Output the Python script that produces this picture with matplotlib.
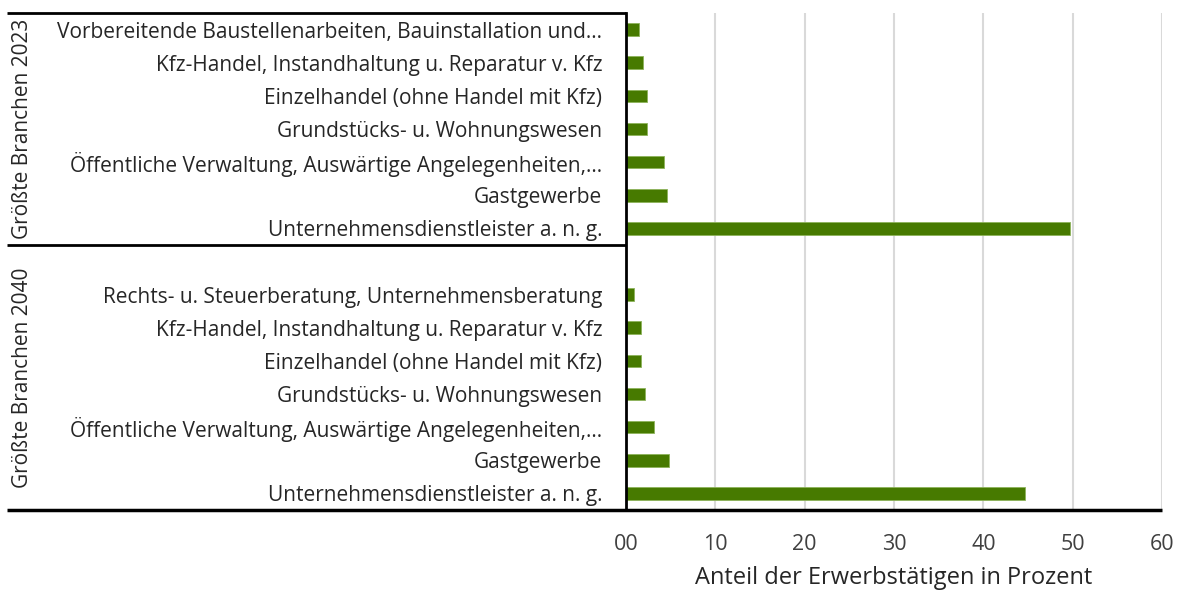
import matplotlib
matplotlib.use("Agg")
import matplotlib.pyplot as plt
from matplotlib.transforms import blended_transform_factory

# ---- data ----
group_labels = ["Größte Branchen 2023", "Größte Branchen 2040"]
categories_2023 = [
    "Vorbereitende Baustellenarbeiten, Bauinstallation und…",
    "Kfz-Handel, Instandhaltung u. Reparatur v. Kfz",
    "Einzelhandel (ohne Handel mit Kfz)",
    "Grundstücks- u. Wohnungswesen",
    "Öffentliche Verwaltung, Auswärtige Angelegenheiten,…",
    "Gastgewerbe",
    "Unternehmensdienstleister a. n. g.",
]
values_2023 = [1.5, 1.95, 2.3, 2.3, 4.25, 4.55, 49.7]
categories_2040 = [
    "Rechts- u. Steuerberatung, Unternehmensberatung",
    "Kfz-Handel, Instandhaltung u. Reparatur v. Kfz",
    "Einzelhandel (ohne Handel mit Kfz)",
    "Grundstücks- u. Wohnungswesen",
    "Öffentliche Verwaltung, Auswärtige Angelegenheiten,…",
    "Gastgewerbe",
    "Unternehmensdienstleister a. n. g.",
]
values_2040 = [0.9, 1.7, 1.7, 2.1, 3.1, 4.85, 44.7]
x_ticks = [0, 10, 20, 30, 40, 50, 60]
x_tick_labels = ["00", "10", "20", "30", "40", "50", "60"]
x_label = "Anteil der Erwerbstätigen in Prozent"

plt.rcParams['font.family'] = ['Open Sans', 'DejaVu Sans']

fig = plt.figure(figsize=(11.81, 5.92), dpi=100)
ax = fig.add_axes([626/1181, 1 - 510/592, 536/1181, 497/592])

n1 = len(categories_2023)
n2 = len(categories_2040)
pos_2023 = list(range(n1))
pos_2040 = [n1 + 1 + i for i in range(n2)]  # one empty slot on top of 2040 group
total = n1 + 1 + n2

bar_color = "#477A00"
edge_color = "#8DB35A"
ax.barh(pos_2023, values_2023, height=0.38, color=bar_color, edgecolor=edge_color, linewidth=0.6, zorder=3)
ax.barh(pos_2040, values_2040, height=0.38, color=bar_color, edgecolor=edge_color, linewidth=0.6, zorder=3)

ax.set_ylim(total - 0.5, -0.5)
ax.set_xlim(0, 60)
ax.set_yticks(pos_2023 + pos_2040)
ax.set_yticklabels(categories_2023 + categories_2040, fontsize=15, color="#262626")
ax.tick_params(axis='y', length=0, pad=17)
ax.set_xticks(x_ticks)
ax.set_xticklabels(x_tick_labels, fontsize=15.5, color="#404040")
ax.tick_params(axis='x', length=0, pad=17)
ax.set_xlabel(x_label, fontsize=17, color="#262626", labelpad=8)

ax.grid(axis='x', color="#D9D9D9", linewidth=1.5, zorder=0)
for s in ["top", "right", "bottom"]:
    ax.spines[s].set_visible(False)
ax.spines["left"].set_linewidth(2)
ax.spines["left"].set_color("black")
ax.spines["left"].set_zorder(4)

tr = blended_transform_factory(ax.transAxes, ax.transData)
left_x = (7 - 626) / 536
ax.plot([left_x, 0], [-0.5, -0.5], transform=tr, color="black", lw=2, clip_on=False, solid_capstyle="butt")
ax.plot([left_x, 0], [n1 - 0.5, n1 - 0.5], transform=tr, color="black", lw=2, clip_on=False, solid_capstyle="butt")
ax.plot([left_x, 1], [total - 0.5, total - 0.5], transform=tr, color="black", lw=2.5, clip_on=False, solid_capstyle="butt")

gx = (23 - 626) / 536
ax.text(gx, (-0.5 + n1 - 0.5) / 2, group_labels[0], transform=tr, rotation=90,
        ha="center", va="center", fontsize=15, color="#262626")
ax.text(gx, (n1 - 0.5 + total - 0.5) / 2, group_labels[1], transform=tr, rotation=90,
        ha="center", va="center", fontsize=15, color="#262626")

fig.savefig("out.png", dpi=100, facecolor="white")
